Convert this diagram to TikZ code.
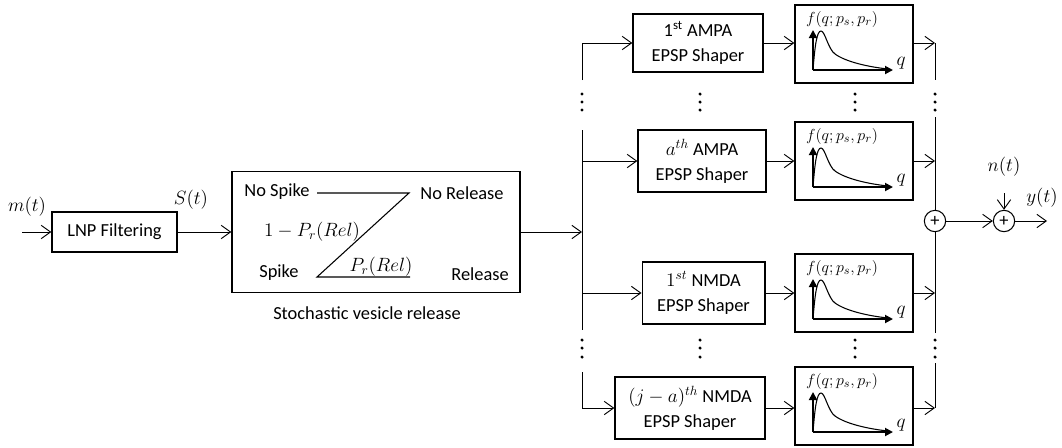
\documentclass[tikz,border=0pt]{standalone}
\usepackage{fontspec}
\setmainfont{Carlito}
\usetikzlibrary{arrows.meta}

\tikzset{
  blk/.style={draw,line width=1pt,align=center,inner sep=0pt},
  fbox/.style={draw,line width=1pt,minimum width=88.5pt,minimum height=58.5pt,inner sep=0pt},
  sumnode/.style={draw,circle,line width=0.8pt,minimum size=16pt,inner sep=0pt},
  conn/.style={line width=0.7pt,-{Straight Barb[length=7pt,width=10pt]}},
  axis/.style={line width=1.4pt,-{Triangle[length=6pt,width=6pt]}},
  vdot/.style={fill,circle,inner sep=0pt,minimum size=2.6pt}
}

\begin{document}
\begin{tikzpicture}[x=0.75pt,y=-0.75pt,font=\fontsize{13.8}{18.8}\selectfont]
    \useasboundingbox (0,0) rectangle (1062,447);
    % input and LNP stage
    \node[blk,minimum width=93.75pt,minimum height=30pt] (lnp) at (114.5,232) {LNP Filtering};
    \coordinate (min) at (22,232);
    \node (mlbl) at (27,207) {$m(t)$};
    \draw[conn] (min) -- (lnp);
    \node (slbl) at (191,200) {$S(t)$};
    % stochastic release
    \node[blk,minimum width=216pt,minimum height=90.75pt] (svr) at (376,232) {};
    \node (svrlbl) at (367,313) {Stochastic vesicle release};
    \draw[conn] (lnp) -- (svr);
    \node (nospike) at (277,192) {No Spike};
    \node (norel) at (462,193) {No Release};
    \node (spike) at (279,273) {Spike};
    \node (rel) at (480,274) {Release};
    \node (pnot) at (312,232) {$1-P_r(Rel)$};
    \node (prel) at (381,267) {$P_r(Rel)$};
    \coordinate (a1) at (317,193);
    \coordinate (a2) at (409,193);
    \coordinate (b1) at (317,277);
    \coordinate (b2) at (410,277);
    \draw[line width=0.8pt] (a1) -- (a2) -- (b1) -- (b2);
    % left bus
    \coordinate (jl) at (582,232);
    \draw[conn] (svr) -- (jl);
    \coordinate (lb1) at (582,80);
    \coordinate (lb2) at (582,130);
    \coordinate (lb3) at (582,330);
    \coordinate (lb4) at (582,372);
    \coordinate (j2) at (582,161);
    \coordinate (j3) at (582,293);
    \draw[line width=0.7pt] (lb2) -- (lb3);
    % EPSP shapers
    \node[blk,minimum width=97.5pt,minimum height=43.5pt] (amp1) at (698,43) {1\textsuperscript{st} AMPA\\EPSP Shaper};
    \node[blk,minimum width=96pt,minimum height=46.5pt] (ampa) at (702,161) {$a^{th}$ AMPA\\EPSP Shaper};
    \node[blk,minimum width=92pt,minimum height=46.5pt] (nmd1) at (703.5,293) {$1^{st}$ NMDA\\EPSP Shaper};
    \node[blk,minimum width=112.5pt,minimum height=46.5pt] (nmdj) at (690,408) {$(j-a)^{th}$ NMDA\\EPSP Shaper};
    \draw[conn] (lb1) |- (amp1.west);
    \draw[conn] (j2) -- (ampa);
    \draw[conn] (j3) -- (nmd1);
    \draw[conn] (lb4) |- (nmdj.west);
    % amplitude distributions
    \foreach \n/\y in {1/44,2/161,3/293,4/406}
        \node[fbox] (f\n) at (854,\y) {};
    \foreach \n in {1,...,4}{
        \begin{scope}[shift={(f\n.center)}]
            \node[font=\fontsize{12.5}{14}\selectfont] (fl\n) at (-12,-25) {$f(q;p_s,p_r)$};
            \node (q\n) at (47,19) {$q$};
            \draw[axis] (-41,26) -- (-41,-14);
            \draw[axis] (-41,26) -- (39,26);
            \draw[line width=0.8pt] (-41,26) .. controls (-39,0) and (-37,-13) .. (-33,-13)
                .. controls (-29,-13) and (-26,5) .. (-19,10)
                .. controls (-8,18) and (15,23) .. (34,25);
        \end{scope}
    }
    \draw[conn] (amp1.east) -- (amp1.east -| f1.west);
    \draw[conn] (ampa.east) -- (ampa.east -| f2.west);
    \draw[conn] (nmd1.east) -- (nmd1.east -| f3.west);
    \draw[conn] (nmdj.east) -- (nmdj.east -| f4.west);
    % right bus and summation
    \coordinate (r1) at (935,43);
    \coordinate (r2) at (935,161);
    \coordinate (r3) at (935,293);
    \coordinate (r4) at (935,408);
    \coordinate (rb1) at (935,80);
    \coordinate (rb2) at (935,117);
    \coordinate (rb3) at (935,333);
    \coordinate (rb4) at (935,363);
    \node[sumnode] (s1) at (935,221) {+};
    \node[sumnode] (s2) at (1004,221) {+};
    \foreach \n in {1,...,4}
        \draw[conn] (f\n.east |- r\n) -- (r\n);
    \draw[line width=0.7pt] (r1) -- (rb1);
    \draw[line width=0.7pt] (rb2) -- (s1) -- (rb3);
    \draw[line width=0.7pt] (rb4) -- (r4);
    \draw[conn] (s1) -- (s2);
    \coordinate (nin) at (1004,193);
    \node (nlbl) at (1004,167) {$n(t)$};
    \draw[conn] (nin) -- (s2);
    \coordinate (yout) at (1047,221);
    \draw[conn] (s2) -- (yout);
    \node (ylbl) at (1042,198) {$y(t)$};
    % dots
    \foreach \x in {582,700,855,935}
    \foreach \y in {94,102,110,340,348,357}
        \node[vdot] at (\x,\y) {};
\end{tikzpicture}
\end{document}
